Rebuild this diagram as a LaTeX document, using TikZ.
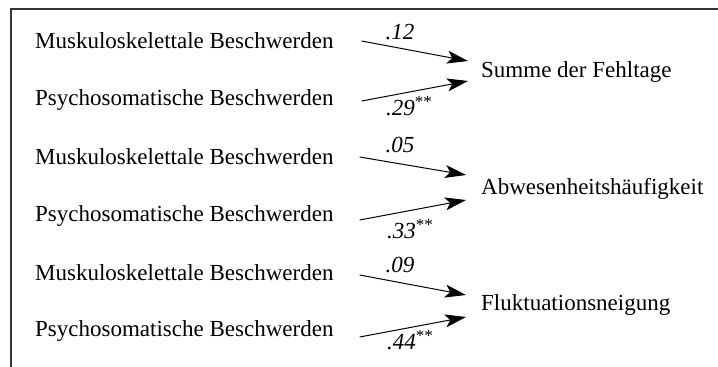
\documentclass[tikz,border=0pt]{standalone}
\usepackage{fontspec}
\setmainfont{Liberation Serif}
\usetikzlibrary{arrows.meta}
\newcommand{\sigstars}{\raisebox{0.38em}{\upshape\fontsize{17}{17}\selectfont **}}
\begin{document}
\begin{tikzpicture}[x=1pt,y=-1pt,
  lbl/.style={font=\fontsize{23}{26}\selectfont, inner sep=0pt, anchor=west},
  coef/.style={font=\fontsize{23}{26}\selectfont\itshape, inner sep=0pt},
  arr/.style={line width=1pt, -{Stealth[length=21pt,width=13pt,inset=5pt]}},
  frame/.style={line width=1.4pt, draw=black!80}]
\useasboundingbox (0,0) rectangle (718,367);
\draw[frame] (11,367) -- (11,9) -- (718,9);

% group 1
\node[lbl] (m1) at (35,41) {Muskuloskelettale Beschwerden};
\node[lbl] (p1) at (35,100) {Psychosomatische Beschwerden};
\node[lbl] (t1) at (481,72) {Summe der Fehltage};
\draw[arr] ([xshift=28pt]m1.east) -- ([xshift=-13pt,yshift=11pt]t1.west);
\draw[arr] ([xshift=28pt,yshift=-1pt]p1.east) -- ([xshift=-13pt,yshift=-9pt]t1.west);
\node[coef] (c1a) at (400,32) {.12};
\node[coef] (c1b) at (409,106) {.29\sigstars};

% group 2
\node[lbl] (m2) at (35,157) {Muskuloskelettale Beschwerden};
\node[lbl] (p2) at (35,216) {Psychosomatische Beschwerden};
\node[lbl] (t2) at (481,189) {Abwesenheitshäufigkeit};
\draw[arr] ([xshift=26pt]m2.east) -- ([xshift=-15pt,yshift=14pt]t2.west);
\draw[arr] ([xshift=26pt,yshift=-4pt]p2.east) -- ([xshift=-15pt,yshift=-11pt]t2.west);
\node[coef] (c2a) at (400,145) {.05};
\node[coef] (c2b) at (410,229) {.33\sigstars};

% group 3
\node[lbl] (m3) at (35,273) {Muskuloskelettale Beschwerden};
\node[lbl] (p3) at (35,331) {Psychosomatische Beschwerden};
\node[lbl] (t3) at (481,305) {Fluktuationsneigung};
\draw[arr] ([xshift=26pt,yshift=-2pt]m3.east) -- ([xshift=-15pt,yshift=10pt]t3.west);
\draw[arr] ([xshift=26pt,yshift=-6pt]p3.east) -- ([xshift=-15pt,yshift=-12pt]t3.west);
\node[coef] (c3a) at (400,265) {.09};
\node[coef] (c3b) at (410,340) {.44\sigstars};
\end{tikzpicture}
\end{document}
